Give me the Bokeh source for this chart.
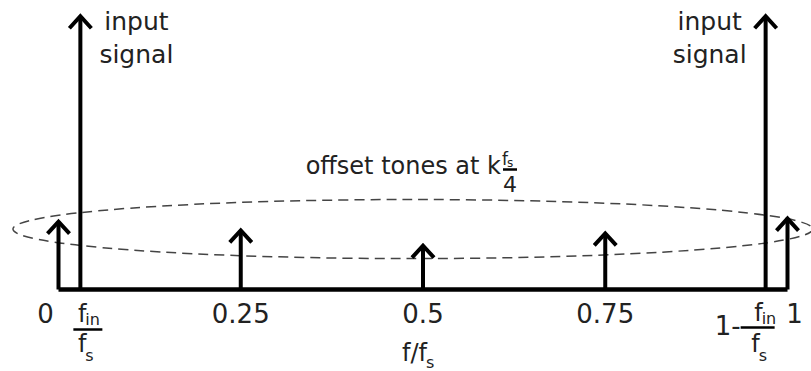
from bokeh.plotting import figure
from bokeh.models import Range1d
from bokeh.core.properties import value
from bokeh.embed import file_html
from bokeh.resources import INLINE

# ---------------- data ----------------
tone_freqs = [0.0, 0.25, 0.5, 0.75, 1.0]          # offset tones at k*fs/4
tone_amps = [0.246, 0.214, 0.159, 0.203, 0.257]
input_freqs = [0.03, 0.97]                        # fin/fs and 1 - fin/fs
input_amps = [0.99, 0.99]
tick_values = [0.0, 0.25, 0.5, 0.75, 1.0]
tick_labels = ["0", "0.25", "0.5", "0.75", "1"]
ellipse_center = (0.486, 0.219)
ellipse_size = (1.097, 0.214)

# ---------------- layout helpers (pixel <-> data) ----------------
W, H = 811, 371
X0, SX = 58, 729      # x pixel of f=0, pixels per unit
Y0, SY = 289, 276     # y pixel of baseline, pixels per unit amplitude


def dx(px):
    return px / SX


def ya(px):  # absolute screen-y pixel -> data y
    return (Y0 - px) / SY


def xa(px):
    return (px - X0) / SX


p = figure(width=W, height=H, output_backend="svg", toolbar_location=None,
           x_axis_type=None, y_axis_type=None, min_border=0,
           x_range=Range1d(xa(0), xa(W)), y_range=Range1d(ya(H), ya(0)))
p.outline_line_color = None
p.grid.visible = False
p.background_fill_color = "white"
p.border_fill_color = "white"

FONT = value("DejaVu Sans")

# dashed ellipse
p.ellipse(x=[ellipse_center[0]], y=[ellipse_center[1]],
          width=[ellipse_size[0]], height=[ellipse_size[1]],
          fill_color=None, line_color="#444444", line_width=1.5, line_dash="10 6")

# baseline
p.segment(x0=[min(tone_freqs)], y0=[0], x1=[max(tone_freqs)], y1=[0],
          line_color="black", line_width=4.5)

# stems and chevron heads
all_f = tone_freqs + input_freqs
all_a = tone_amps + input_amps
p.segment(x0=all_f, y0=[0] * len(all_f), x1=all_f, y1=all_a,
          line_color="black", line_width=4)
hw, hl = dx(11), 12 / SY
xs = [[f - hw, f, f + hw] for f in all_f]
ys = [[a - hl, a, a - hl] for a in all_a]
p.multi_line(xs=xs, ys=ys, line_color="black", line_width=4,
             line_join="miter", line_cap="butt")


def txt(t, x, base_px, size, align="center"):
    y = ya(base_px - 0.4 * size)
    p.text(x=[x], y=[y], text=[t], text_font=FONT, text_font_size=f"{size}px",
           text_align=align, text_baseline="alphabetic", text_color="#222222")


# tick labels
offs = [-13, 0, 0, 0, 7]
for v, lab, o in zip(tick_values, tick_labels, offs):
    txt(lab, v + dx(o), 323, 26)

# fraction fin/fs under left input
fl = input_freqs[0]
txt("f", fl + dx(6), 323, 24, "right")
txt("in", fl + dx(5), 325, 16, "left")
p.segment(x0=[fl - dx(7)], y0=[ya(329)], x1=[fl + dx(22)], y1=[ya(329)],
          line_color="black", line_width=2.5)
txt("f", fl + dx(6), 353, 24, "right")
txt("s", fl + dx(5), 361, 16, "left")

# fraction 1 - fin/fs under right input
fr = input_freqs[1]
txt("1-", fr - dx(25), 335, 26, "right")
txt("f", fr - dx(3), 322, 24, "right")
txt("in", fr - dx(4), 324, 16, "left")
p.segment(x0=[fr - dx(25)], y0=[ya(327)], x1=[fr + dx(9)], y1=[ya(327)],
          line_color="black", line_width=2.5)
txt("f", fr - dx(6), 353, 24, "right")
txt("s", fr - dx(7), 361, 16, "left")

# axis title f/fs
txt("f/f", 0.5 + dx(4), 362, 24, "right")
txt("s", 0.5 + dx(3), 368, 16, "left")

# input signal annotations
txt("input", input_freqs[0] + dx(56), 31, 25)
txt("signal", input_freqs[0] + dx(56), 64, 25)
txt("input", input_freqs[1] - dx(56), 31, 25)
txt("signal", input_freqs[1] - dx(56), 64, 25)

# offset tones label with k fs/4
kx = 0.5 + dx(78)
txt("offset tones at k", kx, 175, 24, "right")
p.segment(x0=[kx + dx(2)], y0=[ya(169)], x1=[kx + dx(16)], y1=[ya(169)],
          line_color="black", line_width=2.5)
txt("f", kx + dx(7), 165, 17, "right")
txt("s", kx + dx(6), 167, 12, "left")
txt("4", kx + dx(9), 192, 22)

open("out.html", "w").write(file_html(p, INLINE))
